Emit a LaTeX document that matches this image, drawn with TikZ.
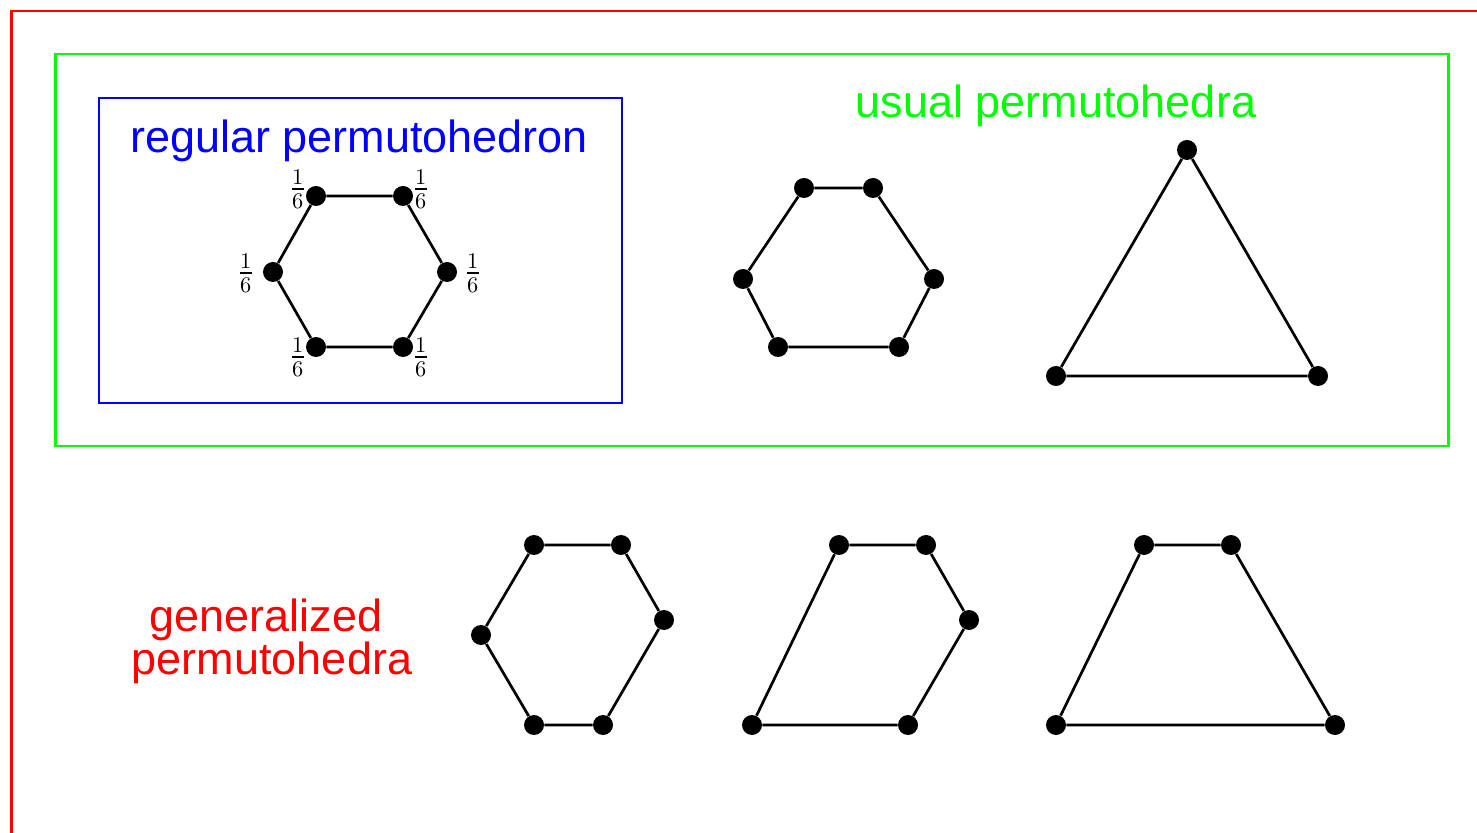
\documentclass[tikz,border=0pt]{standalone}
\usepackage{fontspec}
\setmainfont{Liberation Sans}
\usepackage{unicode-math}
\setmathfont{Latin Modern Math}
\definecolor{myred}{RGB}{255,0,0}
\definecolor{mygreen}{RGB}{0,255,0}
\definecolor{myblue}{RGB}{0,0,255}
\begin{document}
\begin{tikzpicture}[x=0.5pt,y=-0.5pt,
  frame/.style={line width=1.3pt},
  vtx/.style={circle,fill=black,inner sep=0pt,minimum size=10pt},
  edge/.style={line width=1.35pt,black},
  title/.style={font=\fontsize{22.5}{26}\selectfont,inner sep=0pt},
  frac/.style={font=\fontsize{16}{18}\selectfont,inner sep=0pt}]
\useasboundingbox (0,0) rectangle (1477,833);
% frames
\draw[frame,myred] (11.5,900) -- (11.5,11) -- (1550,11);
\draw[frame,mygreen] (55.5,54) rectangle (1448.5,446);
\draw[frame,myblue] (99,98) rectangle (622,403);
% titles
\node[title,text=myblue] (tr) at (359,141) {regular permutohedron};
\node[title,text=mygreen] (tu) at (1056,106) {usual permutohedra};
\node[title,text=myred] (tg1) at (266,620) {generalized};
\node[title,text=myred] (tg2) at (272,663) {permutohedra};
% regular hexagon
\node[vtx] (r1) at (316,196) {};
\node[vtx] (r2) at (403,196) {};
\node[vtx] (r3) at (447,272) {};
\node[vtx] (r4) at (403,347) {};
\node[vtx] (r5) at (316,347) {};
\node[vtx] (r6) at (273,272) {};
\draw[edge] (r1) -- (r2) -- (r3) -- (r4) -- (r5) -- (r6) -- (r1);
\node[frac] (l1) at (298,189) {$\frac{1}{6}$};
\node[frac] (l2) at (421,189) {$\frac{1}{6}$};
\node[frac] (l3) at (473,273) {$\frac{1}{6}$};
\node[frac] (l4) at (421,357) {$\frac{1}{6}$};
\node[frac] (l5) at (298,357) {$\frac{1}{6}$};
\node[frac] (l6) at (246,273) {$\frac{1}{6}$};
% usual hexagon
\node[vtx] (u1) at (804,188) {};
\node[vtx] (u2) at (873,188) {};
\node[vtx] (u3) at (934,279) {};
\node[vtx] (u4) at (899,347) {};
\node[vtx] (u5) at (778,347) {};
\node[vtx] (u6) at (743,279) {};
\draw[edge] (u1) -- (u2) -- (u3) -- (u4) -- (u5) -- (u6) -- (u1);
% triangle
\node[vtx] (t1) at (1187,150) {};
\node[vtx] (t2) at (1318,376) {};
\node[vtx] (t3) at (1056,376) {};
\draw[edge] (t1) -- (t2) -- (t3) -- (t1);
% generalized 1
\node[vtx] (a1) at (534,545) {};
\node[vtx] (a2) at (621,545) {};
\node[vtx] (a3) at (664,620) {};
\node[vtx] (a4) at (603,725) {};
\node[vtx] (a5) at (534,725) {};
\node[vtx] (a6) at (481,635) {};
\draw[edge] (a1) -- (a2) -- (a3) -- (a4) -- (a5) -- (a6) -- (a1);
% generalized 2
\node[vtx] (b1) at (839,545) {};
\node[vtx] (b2) at (926,545) {};
\node[vtx] (b3) at (969,620) {};
\node[vtx] (b4) at (908,725) {};
\node[vtx] (b5) at (752,725) {};
\draw[edge] (b1) -- (b2) -- (b3) -- (b4) -- (b5) -- (b1);
% generalized 3
\node[vtx] (c1) at (1144,545) {};
\node[vtx] (c2) at (1231,545) {};
\node[vtx] (c3) at (1335,725) {};
\node[vtx] (c4) at (1056,725) {};
\draw[edge] (c1) -- (c2) -- (c3) -- (c4) -- (c1);
\end{tikzpicture}
\end{document}
